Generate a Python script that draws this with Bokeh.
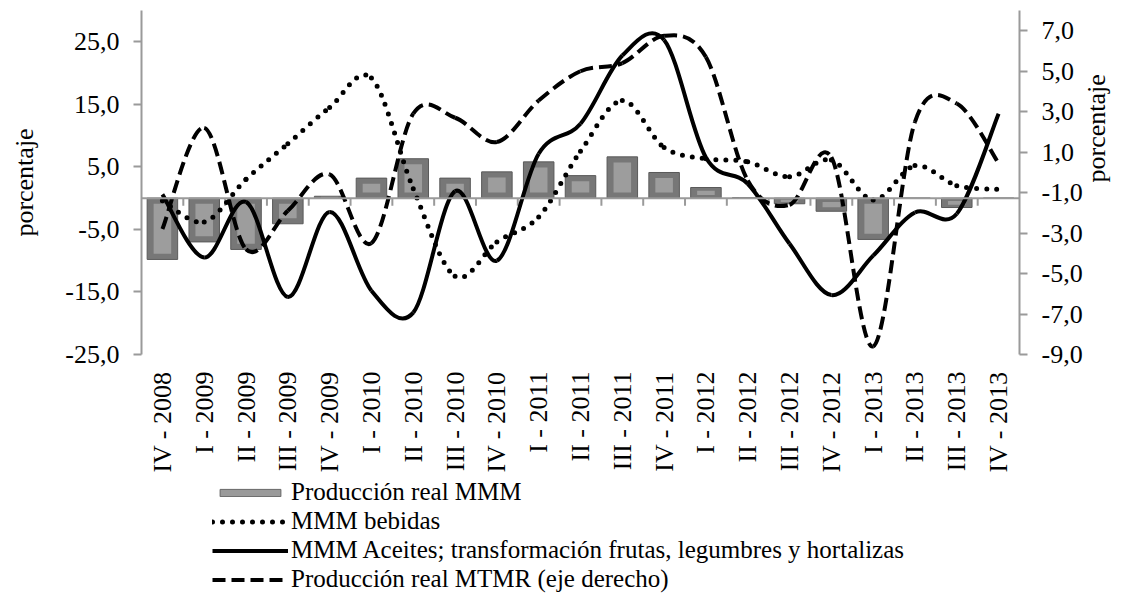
import math
from bokeh.plotting import figure
from bokeh.layouts import column
from bokeh.models import Range1d, LinearAxis, FixedTicker, Span, Legend, LegendItem, ColumnDataSource
from bokeh.embed import file_html
from bokeh.resources import INLINE

# ---------------- data ----------------
categories = ["IV - 2008", "I - 2009", "II - 2009", "III - 2009", "IV - 2009",
              "I - 2010", "II - 2010", "III - 2010", "IV - 2010",
              "I - 2011", "II - 2011", "III - 2011", "IV - 2011",
              "I - 2012", "II - 2012", "III - 2012", "IV - 2012",
              "I - 2013", "II - 2013", "III - 2013", "IV - 2013"]
produccion_mmm = [-9.8, -7.0, -8.2, -4.1, 0.3, 3.2, 6.3, 3.2, 4.2, 5.8, 3.6,
                  6.6, 4.1, 1.7, 0.1, -0.9, -2.1, -6.6, 0.0, -1.5, 0.0]
mmm_bebidas = [-0.4, -3.8, 3.0, 8.7, 14.5, 19.2, 1.5, -12.5, -7.0, -3.0, 7.5,
               15.6, 8.1, 6.3, 5.8, 3.4, 6.1, -0.3, 5.2, 2.0, 1.4]
mmm_aceites = [0.6, -9.5, -0.6, -15.8, -2.2, -14.8, -18.3, 1.1, -10.0, 7.1, 11.9,
               22.8, 25.3, 6.5, 2.3, -7.3, -15.5, -9.2, -2.3, -2.5, 13.5]
mtmr_eje_derecho = [-2.8, 2.2, -3.8, -1.9, -0.1, -3.5, 2.9, 2.7, 1.5, 3.55, 5.0,
                    5.4, 6.75, 5.7, -0.4, -1.6, 0.75, -8.6, 2.5, 3.4, 0.45]
left_ticks = [-25, -15, -5, 5, 15, 25]
right_ticks = [-9, -7, -5, -3, -1, 1, 3, 5, 7]
series_names = ["Producción real MMM", "MMM bebidas",
                "MMM Aceites; transformación frutas, legumbres y hortalizas",
                "Producción real MTMR (eje derecho)"]

FONT = "Liberation Serif"
FS = "26px"
LEG_FS = "25px"
AXIS_GRAY = "#9a9a9a"
BAR_STYLE = dict(fill_color="#777777", line_color="#5a5a5a", line_width=1)
BAR_INNER = dict(fill_color="#9d9d9d", line_color=None)
KEY_BAR_STYLE = dict(fill_color="#9a9a9a", line_color="#666666", line_width=1)
DOT_STYLE = dict(line_color="black", line_width=5, line_dash="0 10", line_cap="round")
SOLID_STYLE = dict(line_color="black", line_width=4)
DASH_STYLE = dict(line_color="black", line_width=4, line_dash="13 6")

x_pos = [i + 0.5 for i in range(len(categories))]


def smooth_source(xs, ys):
    """Cubic Bezier segments through the data points (Excel-like smoothed line)."""
    n = len(xs)
    d = dict(x0=[], y0=[], x1=[], y1=[], cx0=[], cy0=[], cx1=[], cy1=[])
    for i in range(n - 1):
        a = i - 1 if i > 0 else i
        b = i + 2 if i + 2 < n else i + 1
        d["x0"].append(xs[i]); d["y0"].append(ys[i])
        d["x1"].append(xs[i + 1]); d["y1"].append(ys[i + 1])
        d["cx0"].append(xs[i] + (xs[i + 1] - xs[a]) / 6.0)
        d["cy0"].append(ys[i] + (ys[i + 1] - ys[a]) / 6.0)
        d["cx1"].append(xs[i + 1] - (xs[b] - xs[i]) / 6.0)
        d["cy1"].append(ys[i + 1] - (ys[b] - ys[i]) / 6.0)
    return ColumnDataSource(d)


W = 1128
p = figure(width=W, height=478, x_range=Range1d(0, len(categories)),
           y_range=Range1d(-25, 30), output_backend="svg", toolbar_location=None,
           min_border_left=141, min_border_right=105, min_border_top=10,
           min_border_bottom=124)
p.extra_y_ranges = {"right": Range1d(-9, 8)}
p.outline_line_color = None
p.grid.visible = False
p.background_fill_color = "white"

# left axis
ya = p.yaxis[0]
ya.ticker = FixedTicker(ticks=left_ticks)
ya.major_label_overrides = {t: f"{t:.1f}".replace(".", ",") for t in left_ticks}
ya.axis_label = "porcentaje"

# right axis
ra = LinearAxis(y_range_name="right", axis_label="porcentaje")
ra.ticker = FixedTicker(ticks=right_ticks)
ra.major_label_overrides = {t: f"{t:.1f}".replace(".", ",") for t in right_ticks}
p.add_layout(ra, "right")
if "axis_label_orientation" in ra.properties():
    ra.axis_label_orientation = math.pi / 2

for ax in (ya, ra):
    ax.axis_line_color = AXIS_GRAY
    ax.axis_line_width = 2
    ax.major_tick_line_color = AXIS_GRAY
    ax.major_tick_line_width = 2
    ax.major_tick_out = 8
    ax.major_tick_in = 0
    ax.minor_tick_line_color = None
    ax.major_label_text_font = FONT
    ax.major_label_text_font_size = FS
    ax.major_label_text_color = "black"
    ax.axis_label_text_font = FONT
    ax.axis_label_text_font_size = FS
    ax.axis_label_text_font_style = "normal"
    ax.axis_label_text_color = "black"
    ax.major_label_standoff = 14
ya.axis_label_standoff = 23
ra.axis_label_standoff = 11

# bottom axis: labels only
xa = p.xaxis[0]
xa.ticker = FixedTicker(ticks=x_pos)
xa.major_label_overrides = {x: c for x, c in zip(x_pos, categories)}
xa.major_label_orientation = math.pi / 2
xa.axis_line_color = None
xa.major_tick_line_color = None
xa.minor_tick_line_color = None
xa.major_label_text_font = FONT
xa.major_label_text_font_size = FS
xa.major_label_text_color = "black"
xa.major_label_standoff = 11

# bars (outer body + lighter inner face for a bevelled look)
p.vbar(x=x_pos, top=produccion_mmm, bottom=0, width=0.73, **BAR_STYLE)
inset = [math.copysign(min(0.9, abs(v) * 0.3), v) for v in produccion_mmm]
p.vbar(x=x_pos, top=[v - s for v, s in zip(produccion_mmm, inset)], bottom=inset,
       width=0.42, **BAR_INNER)

# zero line with category boundary ticks
p.add_layout(Span(location=0, dimension="width", line_color=AXIS_GRAY, line_width=2))
bounds = list(range(1, len(categories)))
p.segment(x0=bounds, y0=[0] * len(bounds), x1=bounds, y1=[-1.2] * len(bounds),
          line_color=AXIS_GRAY, line_width=2)

# smoothed lines
BZ = dict(x0="x0", y0="y0", x1="x1", y1="y1", cx0="cx0", cy0="cy0", cx1="cx1", cy1="cy1")
p.bezier(source=smooth_source(x_pos, mmm_bebidas), **BZ, **DOT_STYLE)
p.bezier(source=smooth_source(x_pos, mmm_aceites), **BZ, **SOLID_STYLE)
p.bezier(source=smooth_source(x_pos, mtmr_eje_derecho), y_range_name="right", **BZ, **DASH_STYLE)

# ---------------- legend (separate strip below; key glyphs carry no visible data) ----------------
LH = 118
q = figure(width=W, height=LH, x_range=Range1d(0, 1), y_range=Range1d(0, 1),
           output_backend="svg", toolbar_location=None,
           x_axis_location=None, y_axis_location=None,
           min_border_left=0, min_border_right=0, min_border_top=0, min_border_bottom=0)
q.outline_line_color = None
q.grid.visible = False
nan = float("nan")
k_bar = q.vbar(x=[nan], top=[nan], width=0.5, **KEY_BAR_STYLE)
k_dot = q.line(x=[nan], y=[nan], **DOT_STYLE)
k_sol = q.line(x=[nan], y=[nan], **SOLID_STYLE)
k_dash = q.line(x=[nan], y=[nan], **DASH_STYLE)

row_y = [90, 61, 32, 3]
for name, rend, vy in zip(series_names, [k_bar, k_dot, k_sol, k_dash], row_y):
    lg = Legend(items=[LegendItem(label=name, renderers=[rend])],
                location=(71, vy), orientation="vertical")
    lg.label_text_font = FONT
    lg.label_text_font_size = LEG_FS
    lg.label_text_color = "black"
    lg.label_height = 24
    lg.glyph_height = 9
    lg.glyph_width = 76
    lg.label_standoff = 3
    lg.spacing = 0
    lg.padding = 0
    lg.margin = 0
    lg.border_line_color = None
    lg.background_fill_alpha = 0
    q.add_layout(lg, "center")

layout = column(p, q, spacing=0)
open("out.html", "w").write(file_html(layout, INLINE))
